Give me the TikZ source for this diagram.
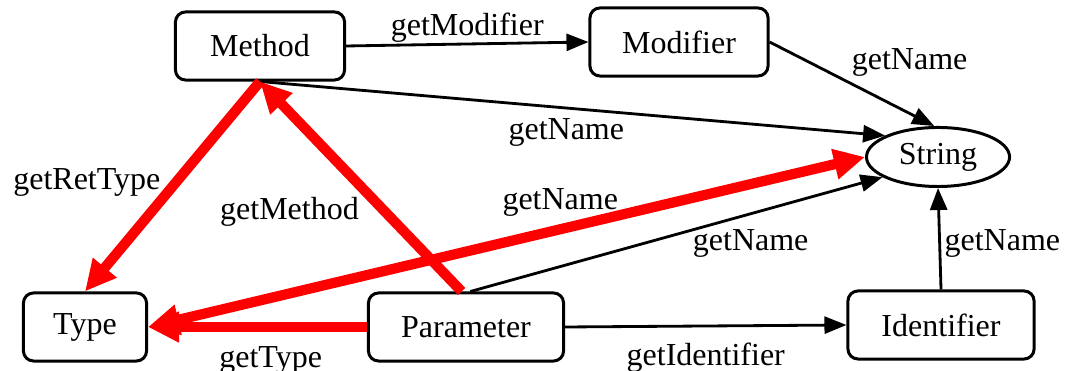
\documentclass[tikz,border=0pt]{standalone}
\usepackage{fontspec}
\IfFontExistsTF{LiberationSerif-Regular.ttf}
  {\setmainfont{LiberationSerif-Regular.ttf}}
  {\setmainfont{Liberation Serif}}
\usetikzlibrary{arrows.meta,shapes.geometric}

\begin{document}
\begin{tikzpicture}[x=0.01cm, y=-0.01cm, font=\rmfamily\fontsize{9.1}{11}\selectfont,
                    every edge/.style={draw,solid,line width=0.8pt},
                    box/.style={draw,line width=0.85pt,rounded corners=1mm,inner sep=0pt,minimum height=0.68cm},
                    lbl/.style={inner sep=1pt},
                    redlink/.style={draw=red,line width=2.9pt,>={Triangle[length=3.1mm,width=2.9mm]}},
                    >={Triangle[length=2.2mm,width=1.7mm]}]
\useasboundingbox (0,0) rectangle (1071,371);

\node[box,minimum width=1.69cm] (method) at (260,46) {Method};
\node[box,minimum width=1.78cm] (modifier) at (679,42) {Modifier};
\node[draw,ellipse,line width=0.85pt,inner sep=0pt,minimum width=1.43cm,minimum height=0.59cm] (string) at (938,157) {String};
\node[box,minimum width=1.23cm] (type) at (85,327) {Type};
\node[box,minimum width=1.95cm] (param) at (466,327) {Parameter};
\node[box,minimum width=1.86cm] (ident) at (941,325) {Identifier};

\path[->]
(method.east) edge node[lbl,above=-1pt] {getModifier} (modifier.west)
(modifier.east) edge node[lbl,pos=0.47,anchor=south west] {getName} (string.97)
(method.south) edge node[lbl,pos=0.49,below=1.5pt] {getName} (string.158)
(param.83) edge node[lbl,pos=0.68,below=3pt] {getName} (string.200)
(param.east) edge node[lbl,below=3.4pt] {getIdentifier} (ident.west)
(ident.north) edge node[lbl,pos=0.45,right=0pt] {getName} (string.south)
(method.south) edge [redlink] node[lbl,pos=0.48,left=2pt] {getRetType} (type.north)
(param.97) edge [redlink] node[lbl,pos=0.38,left=5pt] {getMethod} (method.south)
(type.east) edge [redlink,<->] node[lbl,pos=0.575,above=1.3pt] {getName} (string.west)
(param.west) edge [redlink] node[lbl,pos=0.44,below=3pt] {getType} (type.east);
\end{tikzpicture}
\end{document}
